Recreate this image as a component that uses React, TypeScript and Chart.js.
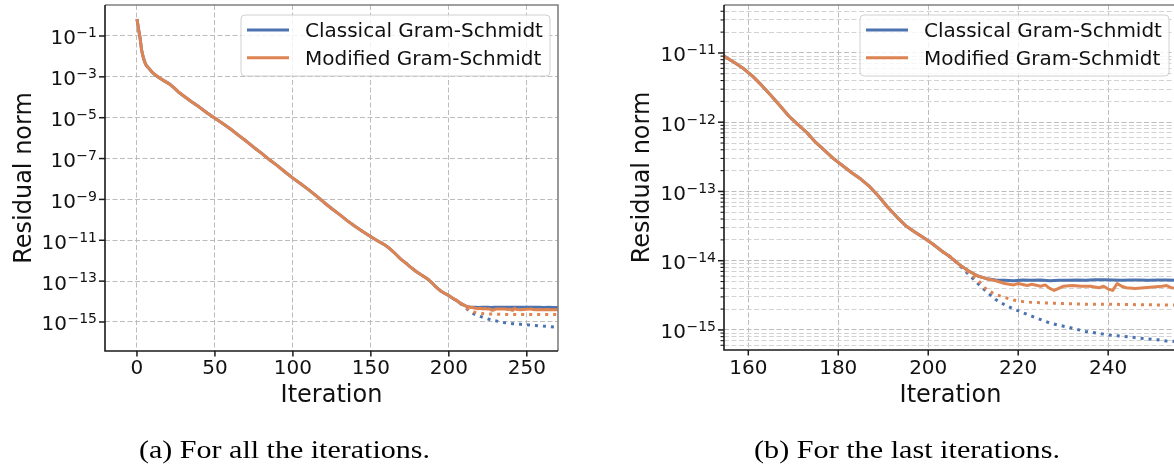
import React, { useEffect, useRef } from "react";
import { Chart, registerables } from "chart.js";

Chart.register(...registerables);

// ---------------- data ----------------
const sharedIter = [0, 1, 2, 3, 4, 5, 6, 8, 10, 12, 15, 18, 21, 24, 27, 30, 35, 40, 45, 50, 55, 60, 65, 70, 75, 80, 85, 90, 95, 100, 105, 110, 115, 120, 125, 130, 135, 140, 145, 150, 155, 157, 159, 161, 163, 165, 167, 169, 171, 173, 175, 177, 179, 181, 183, 185, 187, 189, 191, 193, 195, 197, 199, 201, 203, 205, 207, 209, 211, 213];
const sharedRes = [6.8e-1, 2.2e-1, 7.9e-2, 2.0e-2, 9.3e-3, 5.2e-3, 3.6e-3, 2.4e-3, 1.6e-3, 1.2e-3, 8.3e-4, 6.0e-4, 4.4e-4, 2.8e-4, 1.7e-4, 1.15e-4, 6.0e-5, 3.3e-5, 1.7e-5, 9.5e-6, 5.2e-6, 2.8e-6, 1.4e-6, 7.2e-7, 3.5e-7, 1.8e-7, 8.7e-8, 4.5e-8, 2.2e-8, 1.1e-8, 5.8e-9, 3.0e-9, 1.5e-9, 7.1e-10, 3.5e-10, 1.8e-10, 8.9e-11, 4.7e-11, 2.6e-11, 1.5e-11, 8.7e-12, 7.2e-12, 5.9e-12, 4.6e-12, 3.4e-12, 2.45e-12, 1.74e-12, 1.23e-12, 9.3e-13, 7.1e-13, 5.1e-13, 3.9e-13, 2.95e-13, 2.35e-13, 1.86e-13, 1.51e-13, 1.17e-13, 8.5e-14, 5.9e-14, 4.3e-14, 3.2e-14, 2.6e-14, 2.14e-14, 1.74e-14, 1.38e-14, 1.12e-14, 8.7e-15, 7.1e-15, 6.0e-15, 5.5e-15];

const cgsTailIter = [215, 217, 219, 221, 223, 225, 227, 229, 231, 233, 235, 237, 239, 241, 243, 245, 247, 249, 251, 253, 255, 258, 261, 264, 267, 270];
const cgsTailRes = [5.25e-15, 5.2e-15, 5.15e-15, 5.25e-15, 5.2e-15, 5.25e-15, 5.15e-15, 5.2e-15, 5.2e-15, 5.25e-15, 5.2e-15, 5.3e-15, 5.3e-15, 5.25e-15, 5.2e-15, 5.25e-15, 5.25e-15, 5.2e-15, 5.25e-15, 5.25e-15, 5.2e-15, 5.2e-15, 5.15e-15, 5.2e-15, 5.15e-15, 5.1e-15];

const mgsTailIter = [215, 217, 219, 220, 222, 223, 225, 226, 227, 228, 229, 230, 232, 234, 236, 238, 239, 240, 241, 242, 243, 244, 246, 248, 250, 252, 253, 254, 256, 258, 260, 263, 266, 270];
const mgsTailRes = [5.13e-15, 4.68e-15, 4.47e-15, 4.68e-15, 4.37e-15, 4.57e-15, 4.27e-15, 4.47e-15, 3.98e-15, 3.72e-15, 3.98e-15, 4.27e-15, 4.37e-15, 4.27e-15, 4.27e-15, 4.07e-15, 4.27e-15, 3.89e-15, 3.72e-15, 4.68e-15, 4.27e-15, 4.07e-15, 3.98e-15, 4.07e-15, 4.17e-15, 4.27e-15, 4.37e-15, 4.07e-15, 3.98e-15, 4.07e-15, 3.98e-15, 4.07e-15, 3.98e-15, 3.98e-15];

const cgsDotIter = [203, 205, 207, 209, 211, 213, 215, 217, 219, 221, 223, 225, 227, 229, 231, 233, 235, 237, 239, 241, 243, 245, 247, 249, 251, 253, 255, 260, 265, 270];
const cgsDotRes = [1.38e-14, 1.12e-14, 8.5e-15, 6.3e-15, 4.7e-15, 3.55e-15, 2.75e-15, 2.3e-15, 2.0e-15, 1.78e-15, 1.58e-15, 1.41e-15, 1.26e-15, 1.17e-15, 1.1e-15, 1.02e-15, 9.5e-16, 9.1e-16, 8.7e-16, 8.3e-16, 8.1e-16, 7.9e-16, 7.6e-16, 7.4e-16, 7.2e-16, 6.9e-16, 6.8e-16, 6.3e-16, 5.9e-16, 5.5e-16];

const mgsDotIter = [203, 205, 207, 209, 211, 213, 215, 217, 219, 221, 223, 226, 230, 235, 240, 250, 260, 270];
const mgsDotRes = [1.38e-14, 1.12e-14, 8.7e-15, 6.8e-15, 5.25e-15, 3.8e-15, 3.24e-15, 2.95e-15, 2.7e-15, 2.57e-15, 2.5e-15, 2.45e-15, 2.4e-15, 2.35e-15, 2.35e-15, 2.3e-15, 2.3e-15, 2.3e-15];

const legendLabels = ["Classical Gram-Schmidt", "Modified Gram-Schmidt"];

const leftXTicks = [0, 50, 100, 150, 200, 250];
const leftYMajor = [1e-15, 1e-13, 1e-11, 1e-9, 1e-7, 1e-5, 1e-3, 1e-1];

const rightXTicks = [160, 180, 200, 220, 240];
const rightYMajor = [1e-15, 1e-14, 1e-13, 1e-12, 1e-11];
const rightYMinor = [
  6e-16, 7e-16, 8e-16, 9e-16,
  2e-15, 3e-15, 4e-15, 5e-15, 6e-15, 7e-15, 8e-15, 9e-15,
  2e-14, 3e-14, 4e-14, 5e-14, 6e-14, 7e-14, 8e-14, 9e-14,
  2e-13, 3e-13, 4e-13, 5e-13, 6e-13, 7e-13, 8e-13, 9e-13,
  2e-12, 3e-12, 4e-12, 5e-12, 6e-12, 7e-12, 8e-12, 9e-12,
  2e-11, 3e-11, 4e-11,
];

// ---------------- styles ----------------
const BLUE = "#4c72b0";
const ORANGE = "#dd8452";
const GRID = "#bcbcbc";
const GRID_MINOR = "#d2d2d2";
const FONT = '"DejaVu Sans"';

const pts = (xs: number[], ys: number[]) => xs.map((x, i) => ({ x, y: ys[i] }));

type Spec = {
  xMin: number; xMax: number; yMin: number; yMax: number;
  xTicks: number[]; yMajor: number[]; yMinor: number[];
  canvasW: number; canvasH: number;
  area: { left: number; top: number; right: number; bottom: number };
  yLabelRight: number; yTitleX: number;
  caption: string; captionX: number; captionW: number;
};

const leftSpec: Spec = {
  xMin: -20.5, xMax: 270, yMin: 3.8e-17, yMax: 3.29,
  xTicks: leftXTicks, yMajor: leftYMajor, yMinor: [],
  canvasW: 600, canvasH: 468,
  area: { left: 105, top: 5, right: 558, bottom: 351 },
  yLabelRight: 97, yTitleX: 30.5,
  caption: "(a) For all the iterations.", captionX: 284.5, captionW: 291,
};

const rightSpec: Spec = {
  xMin: 154.6, xMax: 255.3, yMin: 5.13e-16, yMax: 4.93e-11,
  xTicks: rightXTicks, yMajor: rightYMajor, yMinor: rightYMinor,
  canvasW: 620, canvasH: 468,
  area: { left: 124, top: 5, right: 577, bottom: 350 },
  yLabelRight: 116, yTitleX: 49,
  caption: "(b) For the last iterations.", captionX: 307, captionW: 306,
};

function decor(spec: Spec) {
  return {
    id: "decor",
    afterDraw(chart: any) {
      const ctx: CanvasRenderingContext2D = chart.ctx;
      const a = chart.chartArea;
      const xs = chart.scales.x;
      const ys = chart.scales.y;
      ctx.save();

      // tick marks
      ctx.strokeStyle = "#1a1a1a";
      ctx.lineCap = "butt";
      for (const v of spec.yMajor) {
        const y = ys.getPixelForValue(v);
        ctx.lineWidth = 1.5;
        ctx.beginPath(); ctx.moveTo(a.left - 6, y); ctx.lineTo(a.left, y); ctx.stroke();
      }
      for (const v of spec.yMinor) {
        const y = ys.getPixelForValue(v);
        ctx.lineWidth = 1.1;
        ctx.beginPath(); ctx.moveTo(a.left - 3.5, y); ctx.lineTo(a.left, y); ctx.stroke();
      }
      for (const v of spec.xTicks) {
        const x = xs.getPixelForValue(v);
        ctx.lineWidth = 1.5;
        ctx.beginPath(); ctx.moveTo(x, a.bottom); ctx.lineTo(x, a.bottom + 5.5); ctx.stroke();
      }

      // spines
      ctx.lineWidth = 1.6;
      ctx.strokeStyle = "#808080";
      ctx.beginPath(); ctx.moveTo(a.left, a.top); ctx.lineTo(a.right, a.top); ctx.lineTo(a.right, a.bottom); ctx.stroke();
      ctx.strokeStyle = "#1a1a1a";
      ctx.beginPath(); ctx.moveTo(a.left, a.top); ctx.lineTo(a.left, a.bottom); ctx.lineTo(a.right, a.bottom); ctx.stroke();

      // y tick labels 10^e
      ctx.fillStyle = "#111";
      ctx.textBaseline = "alphabetic";
      ctx.textAlign = "right";
      for (const v of spec.yMajor) {
        const y = ys.getPixelForValue(v);
        const e = Math.round(Math.log10(v));
        const sup = (e < 0 ? "\u2212" : "") + Math.abs(e);
        ctx.font = `14px ${FONT}`;
        const w = ctx.measureText(sup).width;
        ctx.fillText(sup, spec.yLabelRight, y + 1.3);
        ctx.font = `20px ${FONT}`;
        ctx.fillText("10", spec.yLabelRight - w - 0.5, y + 8.5);
      }

      // x tick labels
      ctx.textAlign = "center";
      ctx.font = `20px ${FONT}`;
      for (const v of spec.xTicks) {
        ctx.fillText(String(v), xs.getPixelForValue(v), 374.3);
      }

      // axis titles
      ctx.font = `24px ${FONT}`;
      ctx.fillText("Iteration", (a.left + a.right) / 2, 401.5);
      ctx.save();
      ctx.translate(spec.yTitleX, (a.top + a.bottom) / 2);
      ctx.rotate(-Math.PI / 2);
      ctx.fillText("Residual norm", 0, 0);
      ctx.restore();

      // legend
      const bx = a.right - 317, by = a.top + 10, bw = 309, bh = 61;
      ctx.beginPath();
      (ctx as any).roundRect(bx, by, bw, bh, 4);
      ctx.fillStyle = "rgba(255,255,255,0.8)";
      ctx.fill();
      ctx.strokeStyle = "#d0d0d0";
      ctx.lineWidth = 1;
      ctx.stroke();
      const colors = [BLUE, ORANGE];
      const handleY = [a.top + 25, a.top + 52.7];
      const textY = [a.top + 32.3, a.top + 60];
      for (let i = 0; i < 2; i++) {
        ctx.strokeStyle = colors[i];
        ctx.lineWidth = 3;
        ctx.beginPath(); ctx.moveTo(a.right - 311, handleY[i]); ctx.lineTo(a.right - 269, handleY[i]); ctx.stroke();
        ctx.fillStyle = "#111";
        ctx.textAlign = "left";
        ctx.font = `20px ${FONT}`;
        ctx.fillText(legendLabels[i], a.right - 253, textY[i]);
      }

      // caption
      ctx.font = '26px "Liberation Serif"';
      ctx.textAlign = "center";
      ctx.fillStyle = "#000";
      const cw = ctx.measureText(spec.caption).width;
      ctx.save();
      ctx.translate(spec.captionX, 458);
      ctx.scale(spec.captionW / cw, 1);
      ctx.fillText(spec.caption, 0, 0);
      ctx.restore();

      ctx.restore();
    },
  };
}

function build(canvas: HTMLCanvasElement, spec: Spec) {
  const yTicks = [
    ...spec.yMajor.map((v) => ({ value: v, major: true })),
    ...spec.yMinor.map((v) => ({ value: v, major: false })),
  ].sort((p, q) => p.value - q.value);
  const cgsSolid = pts(sharedIter.concat(cgsTailIter), sharedRes.concat(cgsTailRes));
  const mgsSolid = pts(sharedIter.concat(mgsTailIter), sharedRes.concat(mgsTailRes));
  const common = { pointRadius: 0, borderWidth: 3, tension: 0, clip: 0, fill: false, borderJoinStyle: "round" as const };
  return new Chart(canvas, {
    type: "line",
    data: {
      datasets: [
        { ...common, label: legendLabels[1], data: mgsSolid, borderColor: ORANGE, order: 0 },
        { ...common, label: "mgs dotted", data: pts(mgsDotIter, mgsDotRes), borderColor: ORANGE, borderDash: [3, 5], borderCapStyle: "butt", order: 1 },
        { ...common, label: legendLabels[0], data: cgsSolid, borderColor: BLUE, order: 2 },
        { ...common, label: "cgs dotted", data: pts(cgsDotIter, cgsDotRes), borderColor: BLUE, borderDash: [3, 5], borderCapStyle: "butt", order: 3 },
      ] as any,
    },
    options: {
      responsive: false,
      animation: false,
      devicePixelRatio: 1,
      events: [],
      layout: { padding: { left: 0, top: spec.area.top, right: spec.canvasW - spec.area.right, bottom: 0 } },
      plugins: { legend: { display: false }, tooltip: { enabled: false } },
      scales: {
        x: {
          type: "linear",
          min: spec.xMin,
          max: spec.xMax,
          ticks: { display: false, autoSkip: false },
          grid: { color: GRID, lineWidth: 1, drawTicks: false },
          border: { display: false, dash: [5, 2.5] },
          afterBuildTicks: (s: any) => { s.ticks = spec.xTicks.map((v) => ({ value: v })); },
          afterFit: (s: any) => { s.height = spec.canvasH - spec.area.bottom; },
        },
        y: {
          type: "logarithmic",
          min: spec.yMin,
          max: spec.yMax,
          ticks: { display: false, autoSkip: false },
          grid: {
            color: (c: any) => (c.tick && c.tick.major ? GRID : GRID_MINOR),
            lineWidth: 1,
            drawTicks: false,
          },
          border: { display: false, dash: [5, 2.5] },
          afterBuildTicks: (s: any) => { s.ticks = yTicks.map((t) => ({ ...t })); },
          afterFit: (s: any) => { s.width = spec.area.left; },
        },
      } as any,
    },
    plugins: [decor(spec)],
  });
}

export default function App() {
  const leftRef = useRef<HTMLCanvasElement>(null);
  const rightRef = useRef<HTMLCanvasElement>(null);
  useEffect(() => {
    const c1 = build(leftRef.current!, leftSpec);
    const c2 = build(rightRef.current!, rightSpec);
    return () => { c1.destroy(); c2.destroy(); };
  }, []);
  return (
    <div style={{ position: "fixed", left: 0, top: 0, width: 1174, height: 468, overflow: "hidden", background: "#fff" }}>
      <canvas ref={leftRef} width={600} height={468} style={{ position: "absolute", left: 0, top: 0, width: 600, height: 468 }} />
      <canvas ref={rightRef} width={620} height={468} style={{ position: "absolute", left: 600, top: 0, width: 620, height: 468 }} />
    </div>
  );
}
